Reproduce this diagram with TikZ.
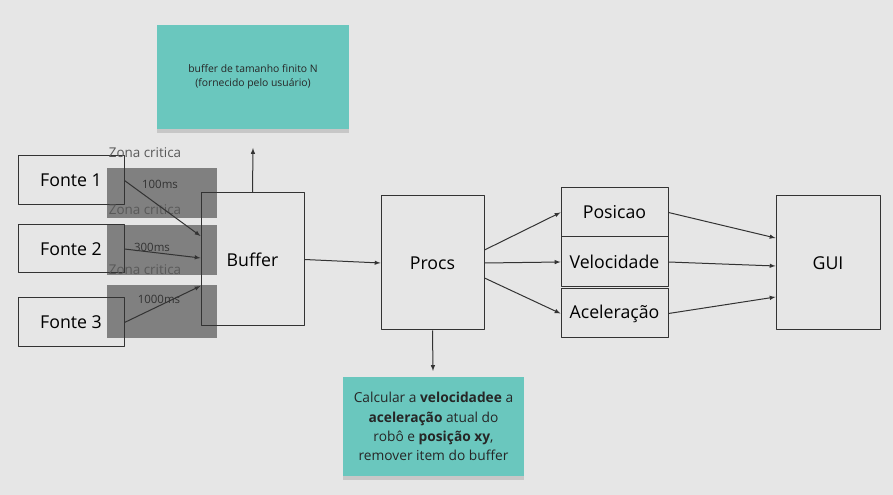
\documentclass[tikz,border=0pt]{standalone}
\usepackage{fontspec}
\setmainfont{Open Sans}
\usetikzlibrary{shadows}
\definecolor{bgcol}{HTML}{E6E6E6}
\definecolor{notecol}{HTML}{6AC7BE}
\definecolor{zonecol}{HTML}{808080}
\definecolor{linecol}{HTML}{333333}
\tikzset{
  box/.style={draw=linecol,line width=1bp,inner sep=0pt,font=\fontsize{17.8}{20}\selectfont},
  zone/.style={fill=zonecol,draw=none,inner sep=0pt},
  zonelabel/.style={text=black!65,inner sep=0pt,font=\fontsize{13.5}{16}\selectfont},
  mslabel/.style={text=linecol,inner sep=0pt,font=\fontsize{11.5}{14}\selectfont},
  note/.style={fill=notecol,draw=none,inner sep=0pt,align=center,text=black!85,
    drop shadow={shadow xshift=0bp,shadow yshift=-4bp,opacity=0.3}},
  conn/.style={linecol,line width=1bp,->},
}
\begin{document}
\begin{tikzpicture}[>=latex,line join=bevel,]
%%
\fill [bgcol] (0bp,0bp) rectangle (893bp,495bp);
\useasboundingbox (0bp,0bp) rectangle (893bp,495bp);
%
\node (note_n) at (253.0bp,418.0bp) [note,minimum width=192bp,minimum height=104bp,font=\fontsize{10.4}{14}\selectfont] {buffer de tamanho finito N\\(fornecido pelo usuário)};
  \node (zone_1) at (162.0bp,302.0bp) [zone,minimum width=110bp,minimum height=50bp] {};
  \node (zone_2) at (162.0bp,245.0bp) [zone,minimum width=110bp,minimum height=50bp] {};
  \node (zone_3) at (162.0bp,183.5bp) [zone,minimum width=110bp,minimum height=53bp] {};
  \node (fonte_1) at (71.0bp,314.5bp) [box,minimum width=106bp,minimum height=49bp] {Fonte 1};
  \node (fonte_2) at (71.0bp,246.0bp) [box,minimum width=106bp,minimum height=48bp] {Fonte 2};
  \node (fonte_3) at (71.0bp,172.5bp) [box,minimum width=106bp,minimum height=49bp] {Fonte 3};
  \node (zlabel_1) at (145.0bp,342.0bp) [zonelabel] {Zona critica};
  \node (zlabel_2) at (145.0bp,285.0bp) [zonelabel] {Zona critica};
  \node (zlabel_3) at (145.0bp,225.0bp) [zonelabel] {Zona critica};
  \node (buffer) at (252.5bp,235.5bp) [box,minimum width=103bp,minimum height=133bp] {Buffer};
  \node (ms_1) at (160.0bp,311.0bp) [mslabel] {100ms};
  \node (ms_2) at (152.0bp,248.0bp) [mslabel] {300ms};
  \node (ms_3) at (159.0bp,196.0bp) [mslabel] {1000ms};
  \node (procs) at (432.5bp,232.0bp) [box,minimum width=103bp,minimum height=134bp] {Procs};
  \node (posicao) at (614.5bp,282.5bp) [box,minimum width=107bp,minimum height=49bp] {Posicao};
  \node (velocidade) at (614.5bp,233.0bp) [box,minimum width=107bp,minimum height=50bp] {Velocidade};
  \node (aceleracao) at (614.5bp,181.5bp) [box,minimum width=107bp,minimum height=49bp] {Aceleração};
  \node (gui) at (828.0bp,232.0bp) [box,minimum width=104bp,minimum height=134bp] {GUI};
  \node (note_calc) at (433.5bp,68.5bp) [note,minimum width=181bp,minimum height=99bp,font=\fontsize{13.8}{19.3}\selectfont] {Calcular a \textbf{velocidadee} a\\\textbf{aceleração} atual do\\robô e \textbf{posição xy},\\remover item do buffer};
  \coordinate (buf_up) at (253.0bp,347.0bp);
  \coordinate (procs_down) at (433.0bp,124.0bp);
%
  \draw [conn] (fonte_1.east) -- ([yshift=23.5bp]buffer.west);
  \draw [conn] (fonte_2.east) -- ([yshift=1.5bp]buffer.west);
  \draw [conn] (fonte_3.east) -- ([yshift=-26.5bp]buffer.west);
  \draw [conn] (buffer.north) -- (buf_up);
  \draw [conn] (buffer.east) -- (procs.west);
  \draw [conn] ([yshift=13bp]procs.east) -- (posicao.west);
  \draw [conn] (procs.east) -- (velocidade.west);
  \draw [conn] ([yshift=-15bp]procs.east) -- (aceleracao.west);
  \draw [conn] (procs.south) -- (procs_down);
  \draw [conn] (posicao.east) -- ([yshift=25bp]gui.west);
  \draw [conn] (velocidade.east) -- ([yshift=-3bp]gui.west);
  \draw [conn] (aceleracao.east) -- ([yshift=-34bp]gui.west);
%
\end{tikzpicture}
\end{document}
